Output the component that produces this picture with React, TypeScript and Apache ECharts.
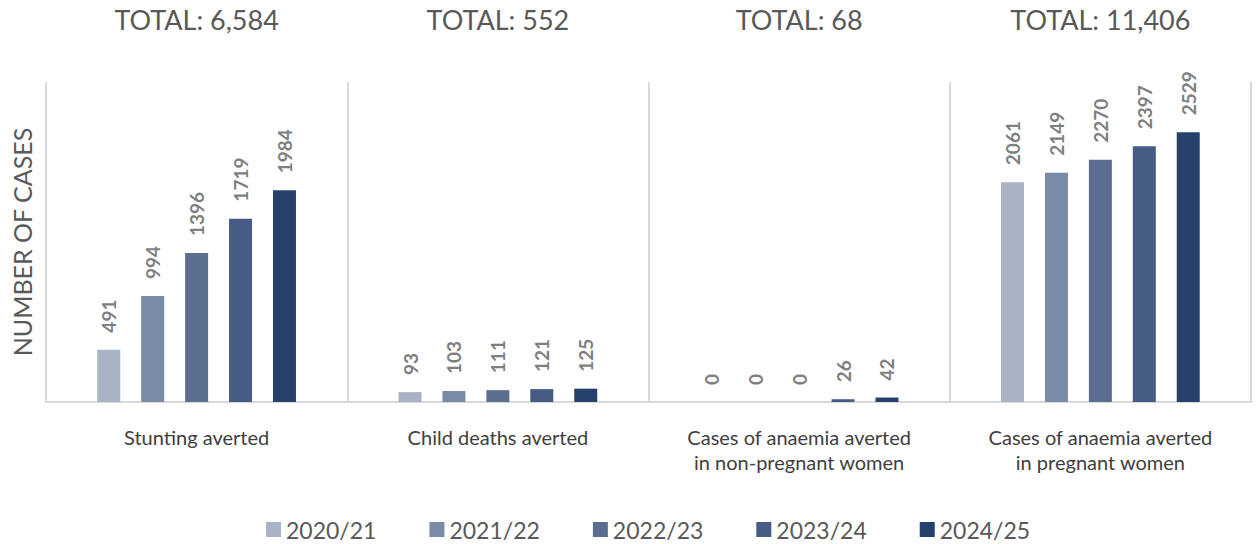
import React, { useEffect, useRef } from "react";
import * as echarts from "echarts";

const categories = [
  "Stunting averted",
  "Child deaths averted",
  "Cases of anaemia averted\nin non-pregnant women",
  "Cases of anaemia averted\nin pregnant women",
];
const totals = ["TOTAL: 6,584", "TOTAL: 552", "TOTAL: 68", "TOTAL: 11,406"];
const years = ["2020/21", "2021/22", "2022/23", "2023/24", "2024/25"];
const v2020 = [491, 93, 0, 2061];
const v2021 = [994, 103, 0, 2149];
const v2022 = [1396, 111, 0, 2270];
const v2023 = [1719, 121, 26, 2397];
const v2024 = [1984, 125, 42, 2529];
const seriesValues = [v2020, v2021, v2022, v2023, v2024];
const colors = ["#A8B3C5", "#7A8BA8", "#5A6F8F", "#465C84", "#27416D"];

const FONT = "Lato, 'Open Sans', sans-serif";

export default function App() {
  const ref = useRef<HTMLDivElement>(null);
  useEffect(() => {
    document.body.style.margin = "0";
    const chart = echarts.init(ref.current!, null, { renderer: "svg" });
    chart.setOption({
      animation: false,
      color: colors,
      textStyle: { fontFamily: FONT },
      grid: { left: 46, right: 5, top: 82, bottom: 142 },
      legend: {
        top: 518,
        left: 266,
        padding: 0,
        itemWidth: 15,
        itemHeight: 15,
        itemGap: 53,
        icon: "rect",
        textStyle: { fontSize: 23, lineHeight: 23, color: "#595959", fontFamily: FONT },
        data: years,
      },
      xAxis: [
        {
          type: "category",
          data: categories,
          axisLine: { lineStyle: { color: "#D9D9D9", width: 2 } },
          axisTick: { show: false },
          splitLine: { show: true, lineStyle: { color: "#D9D9D9", width: 2 } },
          axisLabel: {
            interval: 0,
            margin: 22,
            fontSize: 20,
            lineHeight: 25,
            color: "#404040",
            fontFamily: FONT,
          },
        },
        {
          type: "category",
          position: "top",
          data: totals,
          axisLine: { show: false },
          axisTick: { show: false },
          axisLabel: {
            interval: 0,
            margin: 49,
            fontSize: 27,
            color: "#595959",
            fontFamily: FONT,
          },
        },
      ],
      yAxis: {
        type: "value",
        min: 0,
        max: 3000,
        axisLabel: { show: false },
        axisLine: { show: false },
        axisTick: { show: false },
        splitLine: { show: false },
        name: "NUMBER OF CASES",
        nameLocation: "middle",
        nameGap: 12,
        nameTextStyle: { fontSize: 25, color: "#595959", fontFamily: FONT },
      },
      series: years.map((y, i) => ({
        type: "bar",
        name: y,
        data: seriesValues[i],
        barWidth: 23,
        barGap: "91%",
        itemStyle: { color: colors[i] },
        label: {
          show: true,
          position: "top",
          rotate: 90,
          align: "left",
          verticalAlign: "middle",
          distance: 17,
          fontSize: 19,
          fontWeight: "bold",
          color: "#7F7F7F",
          fontFamily: FONT,
        },
      })),
    });
    return () => chart.dispose();
  }, []);
  return <div ref={ref} style={{ width: 1256, height: 544 }} />;
}
